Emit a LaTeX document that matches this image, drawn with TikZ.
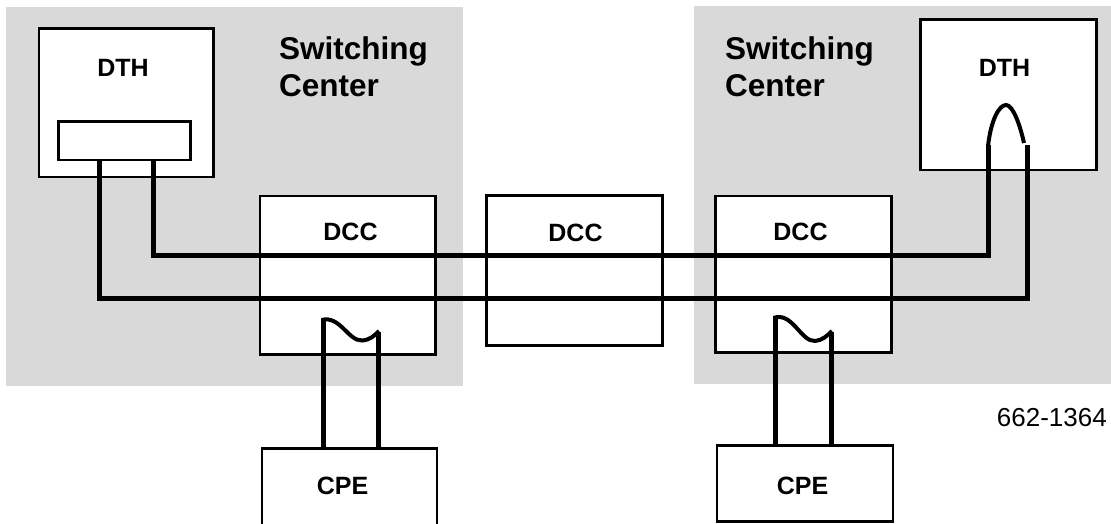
\documentclass[tikz,border=0pt]{standalone}
\usepackage{fontspec}
\setmainfont{Liberation Sans}
\definecolor{centergray}{HTML}{D9D9D9}
\begin{document}
\begin{tikzpicture}[x=1pt,y=-1pt,
  area/.style={fill=centergray, draw=none},
  box/.style={draw=black, fill=white, line width=2.7pt, inner sep=0pt, rectangle},
  label/.style={font=\bfseries\fontsize{25}{30}\selectfont, inner sep=0pt, anchor=base},
  title/.style={font=\bfseries\fontsize{31.5}{37}\selectfont, inner sep=0pt, anchor=base west, align=left},
  wire/.style={line width=5pt, line join=miter},
  loopwire/.style={line width=4pt, line cap=butt}
]
\useasboundingbox (0,0) rectangle (1111,524);
\clip (0,0) rectangle (1111,524);

% switching center areas
\fill[area] (6,7) rectangle (463,386);
\fill[area] (694,6) rectangle (1111,384);

% equipment boxes
\node[box, minimum width=174.5pt, minimum height=148.5pt] (dthL) at (126.25,102.75) {};
\node[box, minimum width=132pt, minimum height=38.5pt] (portL) at (124.5,140.75) {};
\node[box, minimum width=175.5pt, minimum height=158.5pt] (dccL) at (347.75,275.25) {};
\node[box, minimum width=176pt, minimum height=150pt] (dccM) at (574.2,270.4) {};
\node[box, minimum width=176pt, minimum height=156.5pt] (dccR) at (803.3,274.25) {};
\node[box, minimum width=175.6pt, minimum height=150.3pt] (dthR) at (1008.5,94.85) {};
\node[box, minimum width=175pt, minimum height=100pt] (cpeL) at (349.5,498.7) {};
\node[box, minimum width=176pt, minimum height=76pt] (cpeR) at (805,483.3) {};

% labels
\node[label] (tDthL) at (123,77) {DTH};
\node[label] (tDthR) at (1004.5,77) {DTH};
\node[title] (tScL) at (279,97) {Switching\\Center};
\node[title] (tScR) at (725,97) {Switching\\Center};
\node[label] (tDccL) at (350.5,240) {DCC};
\node[label] (tDccM) at (575.5,241) {DCC};
\node[label] (tDccR) at (800.5,240) {DCC};
\node[label] (tCpeL) at (342.5,494) {CPE};
\node[label] (tCpeR) at (802.5,494) {CPE};
\node[font=\fontsize{26}{30}\selectfont, inner sep=0pt, anchor=base east] (tNum) at (1107,426) {662-1364};

% trunk wires between the two DTH units
\coordinate (a0) at (153.2,160);
\coordinate (a1) at (153.2,255);
\coordinate (a2) at (988,255);
\coordinate (a3) at (988,145);
\coordinate (b0) at (99.8,160);
\coordinate (b1) at (99.8,298.3);
\coordinate (b2) at (1027,298.3);
\coordinate (b3) at (1027,145);
\draw[wire] (a0) -- (a1) -- (a2) -- (a3);
\draw[wire] (b0) -- (b1) -- (b2) -- (b3);
\draw[loopwire] (a3) ++(0,1) .. controls (991,120) and (999,105) .. (1006,105)
  .. controls (1013,105) and (1020,125) .. (1024,143);

% local loops from the DCCs down to the CPEs
\coordinate (cL1) at (323.5,319);
\coordinate (cL2) at (378,332);
\coordinate (cR1) at (775.5,317);
\coordinate (cR2) at (831,332);
\draw[wire] (cL1 |- cpeL.north) -- (cL1);
\draw[wire] (cL2 |- cpeL.north) -- (cL2);
\draw[wire] (cR1 |- cpeR.north) -- (cR1);
\draw[wire] (cR2 |- cpeR.north) -- (cR2);
\draw[loopwire] (321.5,320) .. controls (340,315) and (348,341) .. (362,340.5)
  .. controls (370,340) and (374,336) .. (379,331);
\draw[loopwire] (773.5,318) .. controls (792,311) and (801,342) .. (815,341)
  .. controls (822,340.5) and (827,336) .. (832,331);
\end{tikzpicture}
\end{document}
